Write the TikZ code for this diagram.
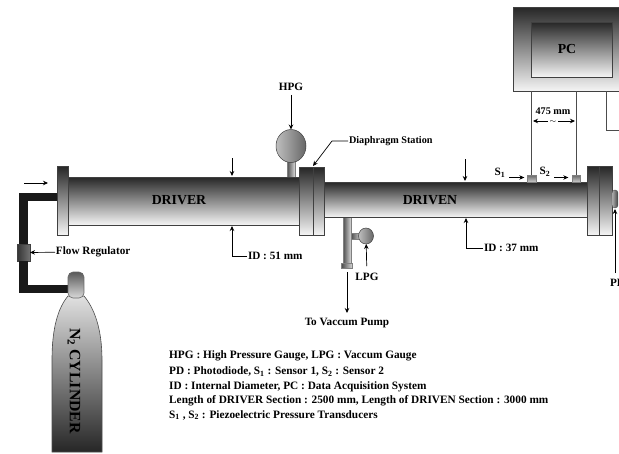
\documentclass[tikz,border=0pt]{standalone}
\usepackage{fontspec}
\setmainfont{Liberation Serif}
\usetikzlibrary{arrows.meta, shapes.geometric}
\tikzset{
  partbox/.style={draw=black!75, line width=0.6pt, top color=black!85, bottom color=black!4, minimum width=10pt, minimum height=10pt, inner sep=0pt, outer sep=0pt},
  gaugeball/.style={draw=black!75, line width=0.5pt, ellipse, left color=black!25, right color=black!60, inner sep=0pt, outer sep=0pt},
  stembox/.style={draw=black!50, line width=0.4pt, left color=black!70, right color=black!15, inner sep=0pt, outer sep=0pt},
  sensorbox/.style={partbox, draw=black!50, top color=black!60, bottom color=black!20},
  tag/.style={font=\bfseries\fontsize{11.2}{13}\selectfont, text=black, inner sep=0pt, outer sep=1pt},
  smalltag/.style={tag, font=\bfseries\fontsize{10.2}{12}\selectfont},
  bigtag/.style={font=\bfseries\fontsize{13.8}{16}\selectfont, text=black, inner sep=0pt},
  pointer/.style={draw=black, line width=0.7pt, -{Stealth[length=5pt,width=4.5pt]}},
  wire/.style={draw=black!70, line width=0.7pt},
  gaspipe/.style={draw=black!90, line width=8.5pt},
  legend/.style={font=\bfseries\fontsize{11.3}{13}\selectfont, text=black, anchor=west, inner sep=0pt}
}

\begin{document}
\begin{tikzpicture}[x=1pt, y=-1pt]
  \useasboundingbox (0,0) rectangle (619,453);
  \clip (0,0) rectangle (619,453);
  \node[stembox, minimum width=8pt, minimum height=16pt] (hpgstem) at (291,169.5) {};
  \node[gaugeball, minimum width=30pt, minimum height=33pt] (hpgball) at (291,146) {};
  \node[stembox, minimum width=8pt, minimum height=47pt] (vacpipe) at (347,240) {};
  \node[stembox, minimum width=11pt, minimum height=5pt] (vacbase) at (347,265.5) {};
  \node[stembox, minimum width=10pt, minimum height=6pt] (lpgstem) at (356,236) {};
  \node[gaugeball, minimum width=15pt, minimum height=16pt] (lpgball) at (366,236) {};
  \node[partbox, minimum width=232pt, minimum height=48pt] (driver) at (184,201) {};
  \node[partbox, minimum width=11pt, minimum height=69pt] (flangeleft) at (62.5,200.5) {};
  \node[partbox, minimum width=263pt, minimum height=35pt] (driven) at (455.5,199.5) {};
  \node[partbox, minimum width=14pt, minimum height=68pt] (diaphragma) at (306,201) {};
  \node[partbox, minimum width=11pt, minimum height=68pt] (diaphragmb) at (318.5,201) {};
  \node[partbox, minimum width=12pt, minimum height=69pt] (flangea) at (593,200.5) {};
  \node[partbox, minimum width=13pt, minimum height=69pt] (flangeb) at (605.5,200.5) {};
  \node[stembox, draw=black!70, rounded corners=3pt, left color=black!30, right color=black!75, minimum width=6pt, minimum height=18pt] (pdbox) at (615,199) {};
  \node[sensorbox, minimum width=9pt, minimum height=7pt] (sensorone) at (531.5,178.5) {};
  \node[sensorbox, minimum width=8pt, minimum height=7pt] (sensortwo) at (576,178.5) {};
  \node[partbox, minimum width=140pt, minimum height=84pt] (pcbox) at (583,49) {};
  \node[partbox, minimum width=81pt, minimum height=55pt] (pcscreen) at (571.5,49.5) {};
  \node[partbox, left color=black!80, middle color=black!30, right color=black!55, minimum width=13pt, minimum height=17pt] (regulator) at (23.5,252.5) {};

  \node[bigtag] (pctag) at (567,49) {PC};
  \node[bigtag] (drivertag) at (179,200) {DRIVER};
  \node[bigtag] (driventag) at (430,200) {DRIVEN};
  \node[tag] (hpgtag) at (291,87) {HPG};
  \node[smalltag, anchor=west] (diaphragmtag) at (348,141) {Diaphragm Station};
  \node[tag] (lpgtag) at (367,277) {LPG};
  \node[tag] (pumptag) at (347,323) {To Vaccum Pump};
  \node[tag, anchor=west] (flowtag) at (55,252) {Flow Regulator};
  \node[tag, anchor=west] (idonetag) at (247,256) {ID : 51 mm};
  \node[tag, anchor=west] (idtwotag) at (483,248) {ID : 37 mm};
  \node[tag, anchor=west] (pdtag) at (609,283) {PD};
  \node[smalltag] (distag) at (553,111) {475 mm};
  \node[smalltag, font=\bfseries\fontsize{8}{8}\selectfont] (tildetag) at (553,122) {$\sim$};
  \node[tag] (sonetag) at (500,173) {S\textsubscript{1}};
  \node[tag] (stwotag) at (545,172) {S\textsubscript{2}};

  \coordinate (pipein) at (57,197);
  \coordinate (pipeout) at (69,289);
  \coordinate (flowin) at (24,183);
  \coordinate (flowtip) at (48,183);
  \coordinate (idonetop) at (232,158);
  \coordinate (idoneup) at (232,176);
  \coordinate (idonelow) at (232,226);
  \coordinate (idtwotop) at (465,159);
  \coordinate (idtwoup) at (465,181);
  \coordinate (idtwolow) at (466,218);
  \coordinate (diaphragmtip) at (313,166);
  \coordinate (diaphragmbend) at (332,141);
  \coordinate (pumpin) at (347,272);
  \coordinate (pumptip) at (347,313);
  \coordinate (pcwire) at (606,130);
  \coordinate (pcwireend) at (619,130);
  \coordinate (pdfoot) at (615,273);
  \coordinate (pdtip) at (615,209);
  \coordinate (distleft) at (533,121);
  \coordinate (distright) at (575,121);

  \draw[gaspipe] (pipein) -| (regulator.north);
  \draw[gaspipe] (regulator.south) |- (pipeout);
  \path[draw=black!70, line width=0.6pt, top color=black!12, bottom color=black!85] (68,296) .. controls (58,308) and (52,328) .. (52,360) -- (52,452) -- (102,452) -- (102,360) .. controls (102,328) and (94,308) .. (84,296) -- cycle;
  \path[draw=black!60, line width=0.6pt, top color=black!65, bottom color=black!15, rounded corners=5pt] (68,298) -- (68,272) -- (84,272) -- (84,298) -- cycle;
  \node[bigtag, font=\bfseries\fontsize{15.8}{18}\selectfont, rotate=-90] (cylindertag) at (74,381) {N\textsubscript{2} CYLINDER};

  \draw[pointer] (flowin) -- (flowtip);
  \draw[pointer] (flowtag) -- (regulator);
  \draw[pointer, shorten <=3pt] (hpgtag) -- (hpgball);
  \draw[pointer] (diaphragmtag.west) -- (diaphragmbend) -- (diaphragmtip);
  \draw[pointer, shorten <=6pt] (lpgtag) -- (lpgball);
  \draw[pointer] (pumpin) -- (pumptip);
  \draw[pointer] (idonetop) -- (idoneup);
  \draw[pointer] (idonetag.west) -| (idonelow);
  \draw[pointer] (idtwotop) -- (idtwoup);
  \draw[pointer] (idtwotag.west) -| (idtwolow);
  \draw[pointer] (sonetag.east |- sensorone.west) ++(3,-1) -- ++(15,0);
  \draw[pointer] (stwotag.east |- sensortwo.west) ++(3,-1) -- ++(14,0);
  \draw[pointer] (pdfoot) -- (pdtip);
  \draw[pointer] (tildetag.west) ++(-1,-1) -- (distleft);
  \draw[pointer] (tildetag.east) ++(1,-1) -- (distright);

  \draw[wire] (sensorone.north) -- (sensorone.north |- pcbox.south);
  \draw[wire] (sensortwo.north) -- (sensortwo.north |- pcbox.south);
  \draw[wire] (pcbox.south -| pcwire) -- (pcwire) -- (pcwireend);

  \node[legend] (legendone) at (169,356) {HPG : High Pressure Gauge, LPG : Vaccum Gauge};
  \node[legend] (legendtwo) at (169,371.5) {PD : Photodiode, S\textsubscript{1} : Sensor 1, S\textsubscript{2} : Sensor 2};
  \node[legend] (legendthree) at (169,386.5) {ID : Internal Diameter, PC : Data Acquisition System};
  \node[legend] (legendfour) at (169,401) {Length of DRIVER Section : 2500 mm, Length of DRIVEN Section : 3000 mm};
  \node[legend] (legendfive) at (169,415) {S\textsubscript{1} , S\textsubscript{2} : Piezoelectric Pressure Transducers};
\end{tikzpicture}
\end{document}
